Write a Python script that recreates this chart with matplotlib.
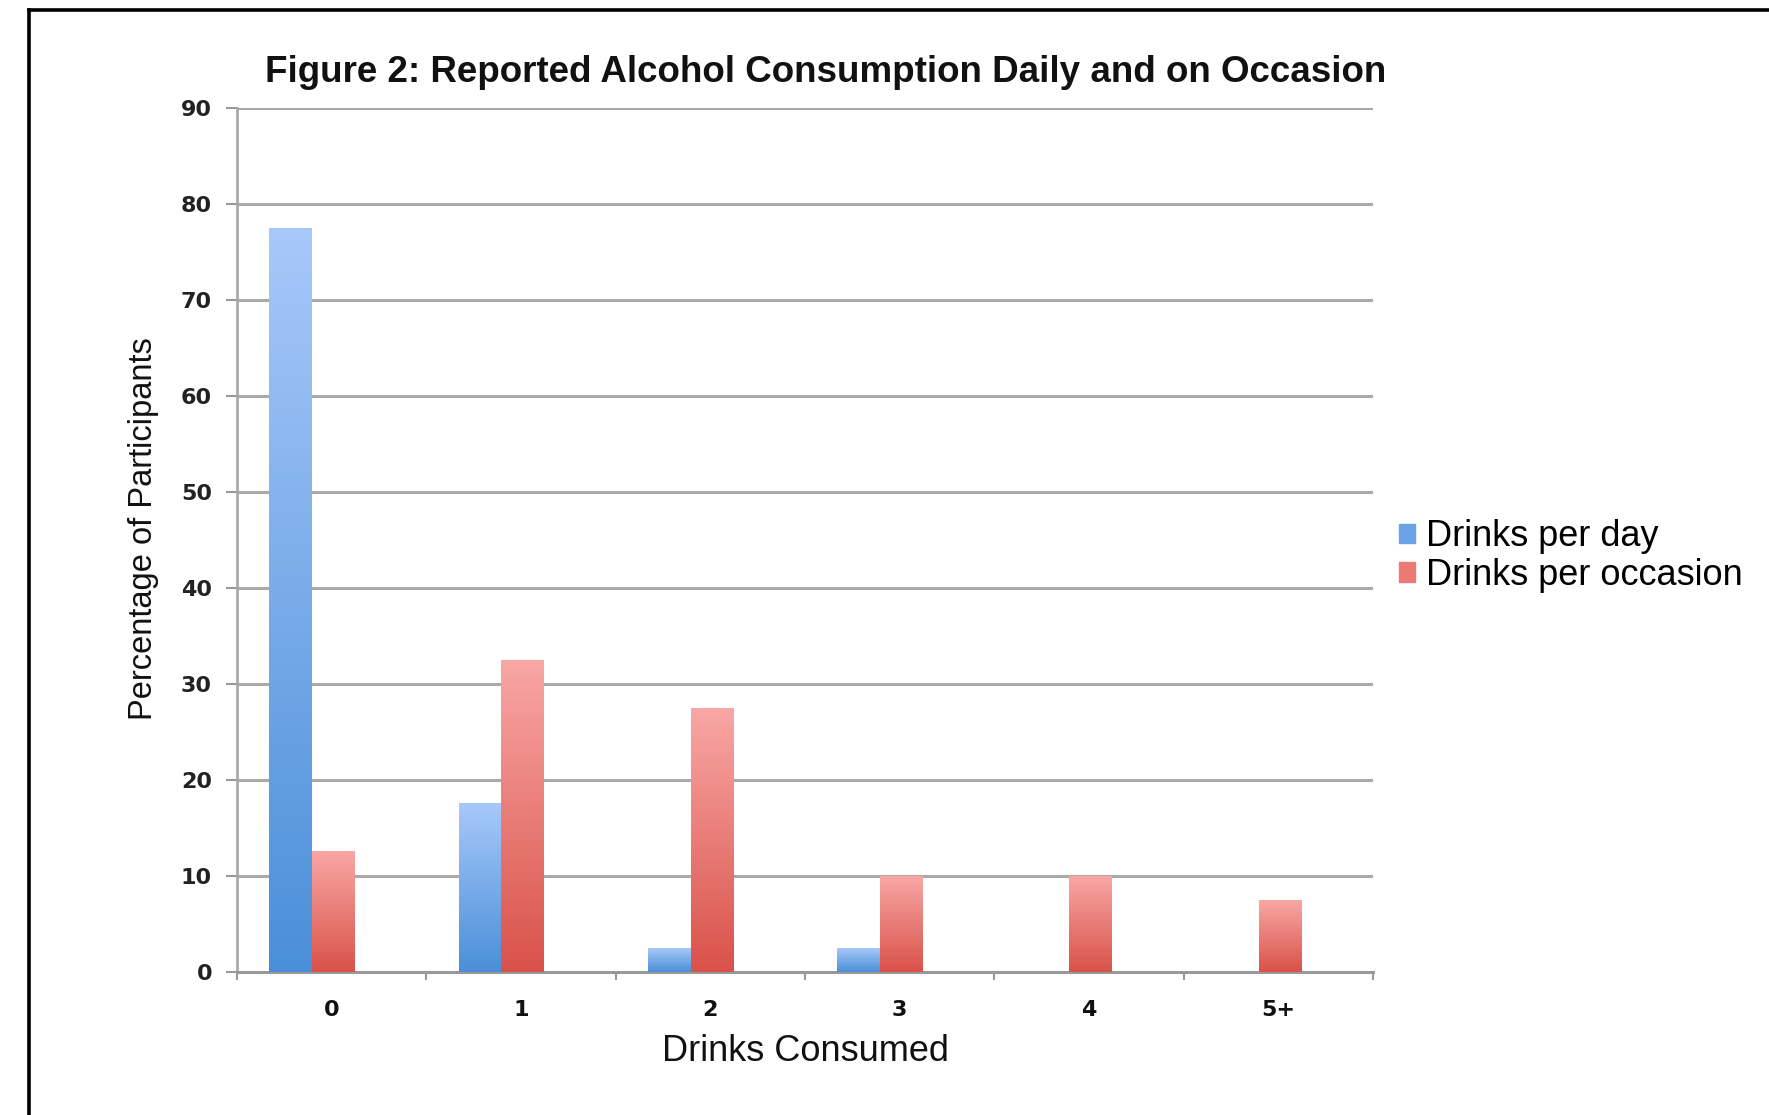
import numpy as np
import matplotlib
matplotlib.use("Agg")
import matplotlib.pyplot as plt
from matplotlib.colors import LinearSegmentedColormap
from matplotlib.patches import Rectangle
from matplotlib.lines import Line2D

categories = ["0", "1", "2", "3", "4", "5+"]
drinks_per_day = [77.5, 17.5, 2.5, 2.5, 0, 0]
drinks_per_occasion = [12.5, 32.5, 27.5, 10, 10, 7.5]
series_names = ["Drinks per day", "Drinks per occasion"]
y_ticks = [0, 10, 20, 30, 40, 50, 60, 70, 80, 90]

plt.rcParams['font.family'] = ['Liberation Sans', 'DejaVu Sans']

W, H = 1769, 1115
fig = plt.figure(figsize=(W / 100, H / 100), dpi=100)
fig.patch.set_facecolor("white")

# page frame (top and left edges visible)
fig.add_artist(Line2D([29 / W, 29 / W], [-0.05, 1 - 10 / H], transform=fig.transFigure,
                      color="black", lw=2.6, solid_capstyle="projecting"))
fig.add_artist(Line2D([29 / W, 1.05], [1 - 10 / H, 1 - 10 / H], transform=fig.transFigure,
                      color="black", lw=2.6, solid_capstyle="projecting"))

ax = fig.add_axes([237 / W, 1 - 972 / H, (1373 - 237) / W, (972 - 108) / H])

blue_cmap = LinearSegmentedColormap.from_list("b", ["#4a8fd8", "#a8c8fa"])
red_cmap = LinearSegmentedColormap.from_list("r", ["#d9524a", "#f9a7a5"])

x = np.arange(len(categories))
bw = 0.226
offset = -0.104
grad = np.linspace(0, 1, 256).reshape(-1, 1)

for xi, v in zip(x, drinks_per_day):
    if v > 0:
        x0 = xi + offset - bw
        ax.imshow(grad, extent=[x0, x0 + bw, 0, v], origin="lower", aspect="auto",
                  cmap=blue_cmap, zorder=3, interpolation="bilinear")
for xi, v in zip(x, drinks_per_occasion):
    if v > 0:
        x0 = xi + offset
        ax.imshow(grad, extent=[x0, x0 + bw, 0, v], origin="lower", aspect="auto",
                  cmap=red_cmap, zorder=3, interpolation="bilinear")

tick_font = dict(family="DejaVu Sans", size=16, weight="bold")

ax.set_xlim(-0.5, len(categories) - 0.5)
ax.set_ylim(0, 90)
ax.set_yticks(y_ticks)
ax.set_yticklabels([str(t) for t in y_ticks], fontdict=tick_font, color="#222222")
ax.set_xticks(x)
ax.set_xticklabels(categories, fontdict=tick_font, color="#111111")
ax.set_xticks(np.arange(-0.5, len(categories)), minor=True)
ax.tick_params(axis="x", which="major", length=0, pad=20)
ax.tick_params(axis="x", which="minor", length=6, width=1.5, color="#999999", direction="out")
ax.tick_params(axis="y", which="major", length=8, width=1.5, color="#999999", direction="out", pad=10)

for yv in y_ticks[1:]:
    ax.axhline(yv, color="#a9a9a9", lw=2.2, zorder=1)

for s in ["top", "right"]:
    ax.spines[s].set_visible(False)
ax.spines["left"].set_color("#aaaaaa")
ax.spines["left"].set_linewidth(2)
ax.spines["bottom"].set_color("#999999")
ax.spines["bottom"].set_linewidth(2.2)

ax.set_xlabel("Drinks Consumed", fontsize=26, labelpad=10, color="#111111")
ax.set_ylabel("Percentage of Participants", fontsize=23.5, color="#111111")
ax.yaxis.set_label_coords(-0.069, 0.513)

fig.text(826 / W, 1 - 72 / H, "Figure 2: Reported Alcohol Consumption Daily and on Occasion",
         ha="center", va="center", fontsize=26.5, fontweight="bold", color="#111111")

handles = [Rectangle((0, 0), 1, 1, color="#6aa3e8"), Rectangle((0, 0), 1, 1, color="#ec7a74")]
fig.legend(handles, series_names, loc="center left", bbox_to_anchor=(1381 / W, 1 - 556 / H),
           frameon=False, fontsize=26, handlelength=0.45, handleheight=0.45,
           handletextpad=0.3, labelspacing=0.1, borderpad=0)

fig.savefig("out.png", dpi=100, facecolor="white")
